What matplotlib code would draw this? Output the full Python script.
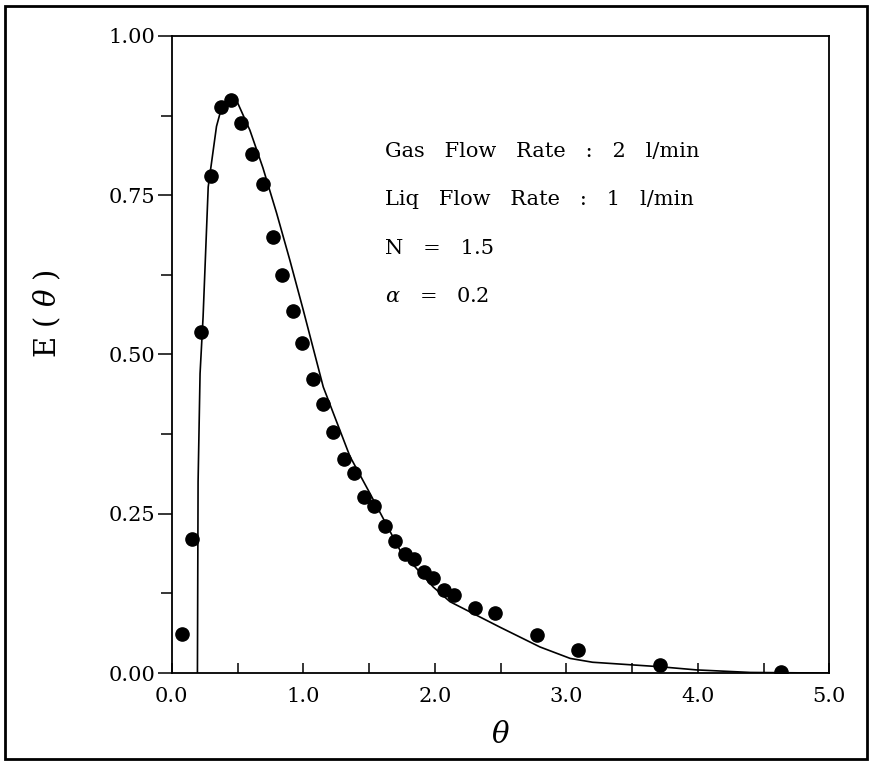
"""
Residence time distribution E(theta): measured points and model curve.
"""

import numpy as np
import matplotlib.pyplot as plt
from matplotlib.patches import Rectangle
from matplotlib.ticker import MultipleLocator

# measured points (theta, E)
theta_exp = [0.076, 0.152, 0.221, 0.297, 0.373, 0.454, 0.530, 0.609, 0.690,
             0.766, 0.840, 0.923, 0.992, 1.073, 1.152, 1.225, 1.307, 1.385,
             1.461, 1.537, 1.618, 1.697, 1.771, 1.842, 1.920, 1.989, 2.068,
             2.146, 2.306, 2.458, 2.775, 3.087, 3.709, 4.635]
e_exp = [0.061, 0.211, 0.536, 0.780, 0.889, 0.899, 0.864, 0.814, 0.768,
         0.685, 0.624, 0.568, 0.518, 0.462, 0.423, 0.378, 0.336, 0.314,
         0.276, 0.262, 0.231, 0.208, 0.187, 0.179, 0.159, 0.149, 0.130,
         0.123, 0.102, 0.094, 0.060, 0.036, 0.013, 0.001]

# model curve
theta_model = [0.195, 0.200, 0.215, 0.238, 0.277, 0.340, 0.378, 0.430, 0.465,
               0.492, 0.594, 0.693, 0.797, 0.898, 0.997, 1.152, 1.355, 1.507,
               1.735, 1.989, 2.116, 2.496, 2.800, 3.030, 3.200, 3.710, 3.990,
               4.400, 5.000]
e_model = [0.000, 0.300, 0.470, 0.559, 0.763, 0.858, 0.887, 0.900, 0.903,
           0.899, 0.852, 0.793, 0.722, 0.648, 0.572, 0.449, 0.340, 0.282,
           0.193, 0.135, 0.112, 0.072, 0.041, 0.023, 0.017, 0.010, 0.005,
           0.001, 0.000]

annotations = ["Gas   Flow   Rate   :   2   l/min",
               "Liq   Flow   Rate   :   1   l/min",
               "N   =   1.5",
               r"$\alpha$   =   0.2"]

plt.rcParams["font.family"] = ["DejaVu Serif"]
plt.rcParams["mathtext.fontset"] = "dejavuserif"

fig = plt.figure(figsize=(8.72, 7.64), dpi=100)
ax = fig.add_axes([0.197, 0.119, 0.754, 0.834])

ax.plot(theta_model, e_model, color="black", linewidth=1.2)
ax.plot(theta_exp, e_exp, linestyle="none", marker="o", markersize=9.5,
        color="black")

ax.set_xlim(0, 5)
ax.set_ylim(0, 1)
ax.xaxis.set_major_locator(MultipleLocator(1.0))
ax.xaxis.set_minor_locator(MultipleLocator(0.5))
ax.yaxis.set_major_locator(MultipleLocator(0.25))
ax.yaxis.set_minor_locator(MultipleLocator(0.125))
ax.xaxis.set_major_formatter(lambda v, p: f"{v:.1f}")
ax.yaxis.set_major_formatter(lambda v, p: f"{v:.2f}")
ax.tick_params(which="both", direction="out", top=False, right=False,
               labelsize=15, width=1.1)
ax.tick_params(which="major", length=10)
ax.tick_params(which="minor", length=8)
ax.tick_params(axis="y", which="major", pad=2)
ax.tick_params(axis="x", which="both", direction="in", length=7, pad=10)
for s in ax.spines.values():
    s.set_linewidth(1.3)

ax.set_xlabel(r"$\theta$", fontsize=21)
ax.xaxis.set_label_coords(0.5, -0.075)
ax.set_ylabel(r"E ( $\theta$ )", fontsize=21)
ax.yaxis.set_label_coords(-0.165, 0.564)

for i, txt in enumerate(annotations):
    ax.text(1.62, 0.818 - i * 0.0755, txt, fontsize=15, va="center")

fig.patches.append(Rectangle((0.006, 0.006), 0.988, 0.986,
                             transform=fig.transFigure, fill=False,
                             linewidth=2.0, edgecolor="black"))

fig.savefig("out.png", dpi=100)
